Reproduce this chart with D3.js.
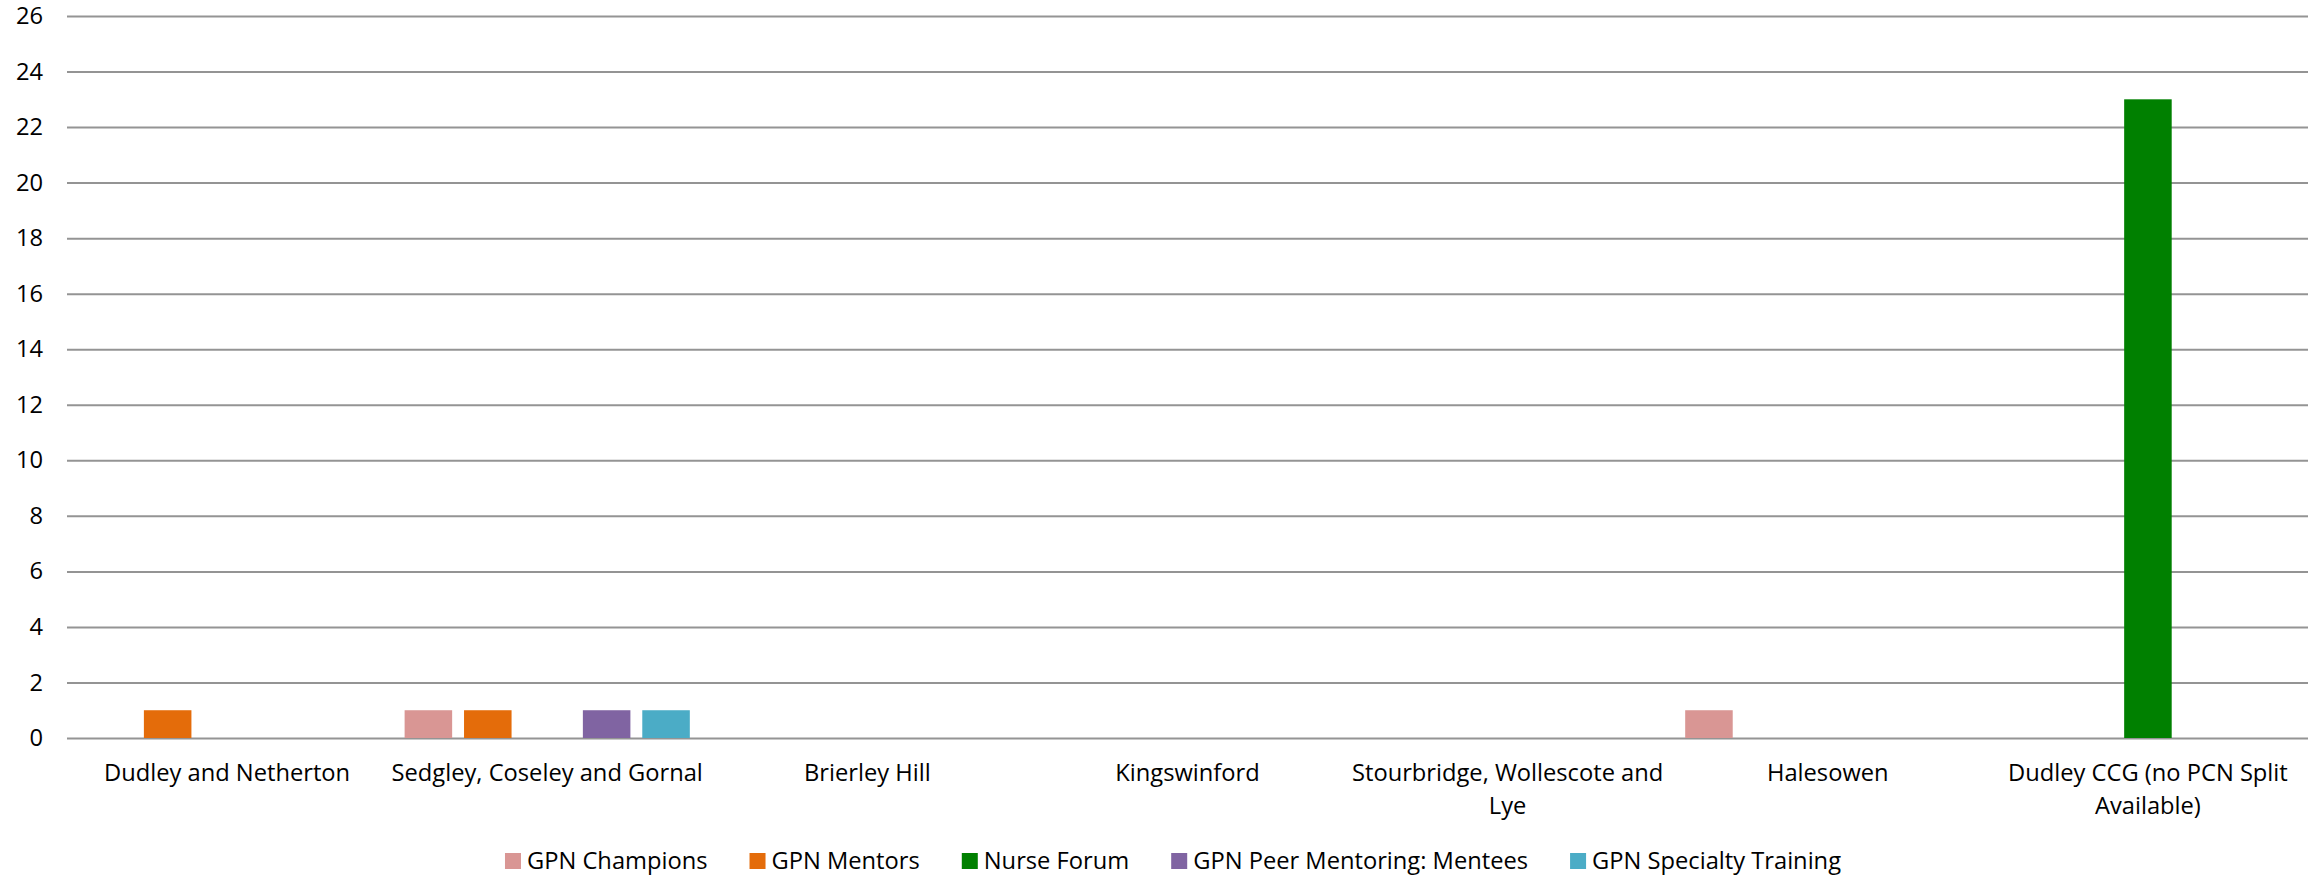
<!DOCTYPE html>
<html>
<head>
<meta charset="utf-8">
<script src="https://cdn.jsdelivr.net/npm/d3@7"></script>
<style>
  body { margin: 0; background: #fff; }
  svg text { font-family: "Open Sans", sans-serif; fill: #000; }
</style>
</head>
<body>
<svg id="chart"></svg>
<script>
var categories = [
    'Dudley and Netherton',
    'Sedgley, Coseley and Gornal',
    'Brierley Hill',
    'Kingswinford',
    'Stourbridge, Wollescote and Lye',
    'Halesowen',
    'Dudley CCG (no PCN Split Available)'
];
var seriesNames = ['GPN Champions', 'GPN Mentors', 'Nurse Forum', 'GPN Peer Mentoring: Mentees', 'GPN Specialty Training'];
var seriesColors = ['#D99694', '#E46C0A', '#008000', '#8064A2', '#4BACC6'];

var gpnChampions = [0, 1, 0, 0, 0, 1, 0],
    gpnMentors = [1, 1, 0, 0, 0, 0, 0],
    nurseForum = [0, 0, 0, 0, 0, 0, 23],
    peerMentees = [0, 1, 0, 0, 0, 0, 0],
    specialtyTraining = [0, 1, 0, 0, 0, 0, 0];
var seriesValues = [gpnChampions, gpnMentors, nurseForum, peerMentees, specialtyTraining];

var yTicks = [0, 2, 4, 6, 8, 10, 12, 14, 16, 18, 20, 22, 24, 26];

var width = 2321,
    height = 876,
    margin = { top: 16, right: 13, bottom: 138, left: 67 },
    plotWidth = width - margin.left - margin.right,
    plotHeight = height - margin.top - margin.bottom,
    fontSize = '23.7px';

var svg = d3.select('svg#chart')
    .attr('width', width)
    .attr('height', height);

var x0 = d3.scaleBand()
    .domain(categories)
    .range([0, plotWidth])
    .padding(0);

var x1 = d3.scaleBand()
    .domain(seriesNames)
    .range([0, x0.bandwidth()])
    .paddingInner(0.2)
    .paddingOuter(0.294);

var y = d3.scaleLinear()
    .domain([0, 26])
    .range([plotHeight, 0]);

var plot = svg.append('g')
    .attr('transform', 'translate(' + margin.left + ',' + margin.top + ')');

// gridlines + y labels
var yAxis = plot.append('g')
    .call(d3.axisLeft(y).tickValues(yTicks).tickSize(-plotWidth).tickPadding(24).tickFormat(d3.format('d')));
yAxis.select('.domain').remove();
yAxis.selectAll('.tick line')
    .attr('stroke', '#949494')
    .attr('stroke-width', 2);
yAxis.selectAll('.tick text')
    .style('font-size', fontSize)
    .attr('fill', '#000');

// bars
var bars = [];
seriesNames.forEach(function(name, s) {
    seriesValues[s].forEach(function(v, c) {
        if (v > 0) bars.push({ series: name, color: seriesColors[s], cat: categories[c], value: v });
    });
});

plot.append('g').selectAll('rect')
    .data(bars)
    .join('rect')
    .attr('x', function(d) { return x0(d.cat) + x1(d.series); })
    .attr('y', function(d) { return y(d.value); })
    .attr('width', x1.bandwidth())
    .attr('height', function(d) { return y(0) - y(d.value); })
    .attr('fill', function(d) { return d.color; });

// category labels, wrapped to the band width
var labels = plot.append('g')
    .attr('transform', 'translate(0,' + (plotHeight + 43) + ')')
    .selectAll('text')
    .data(categories)
    .join('text')
    .attr('x', function(d) { return x0(d) + x0.bandwidth() / 2; })
    .attr('y', 0)
    .attr('text-anchor', 'middle')
    .style('font-size', fontSize)
    .each(wrapLabel);

function wrapLabel(d) {
    var text = d3.select(this),
        words = d.split(' '),
        line = [],
        tspan = text.append('tspan').attr('x', text.attr('x')).attr('dy', 0);
    words.forEach(function(word) {
        line.push(word);
        tspan.text(line.join(' '));
        if (tspan.node().getComputedTextLength() > 318 && line.length > 1) {
            line.pop();
            tspan.text(line.join(' '));
            line = [word];
            tspan = text.append('tspan').attr('x', text.attr('x')).attr('dy', 32.5).text(word);
        }
    });
}

// legend
var legend = svg.append('g').attr('transform', 'translate(0,861)');
var items = legend.selectAll('g')
    .data(seriesNames)
    .join('g');

items.append('rect')
    .attr('x', 0)
    .attr('y', -8)
    .attr('width', 16)
    .attr('height', 16)
    .attr('fill', function(d, i) { return seriesColors[i]; });

items.append('text')
    .attr('x', 22)
    .attr('y', 0)
    .attr('dy', '0.35em')
    .style('font-size', fontSize)
    .text(function(d) { return d; });

var itemGap = 42, offset = 0, positions = [];
items.each(function() {
    positions.push(offset);
    offset += 22 + d3.select(this).select('text').node().getComputedTextLength() + itemGap;
});
var legendWidth = offset - itemGap,
    legendStart = 1173 - legendWidth / 2;
items.attr('transform', function(d, i) { return 'translate(' + (legendStart + positions[i]) + ',0)'; });
</script>
</body>
</html>
